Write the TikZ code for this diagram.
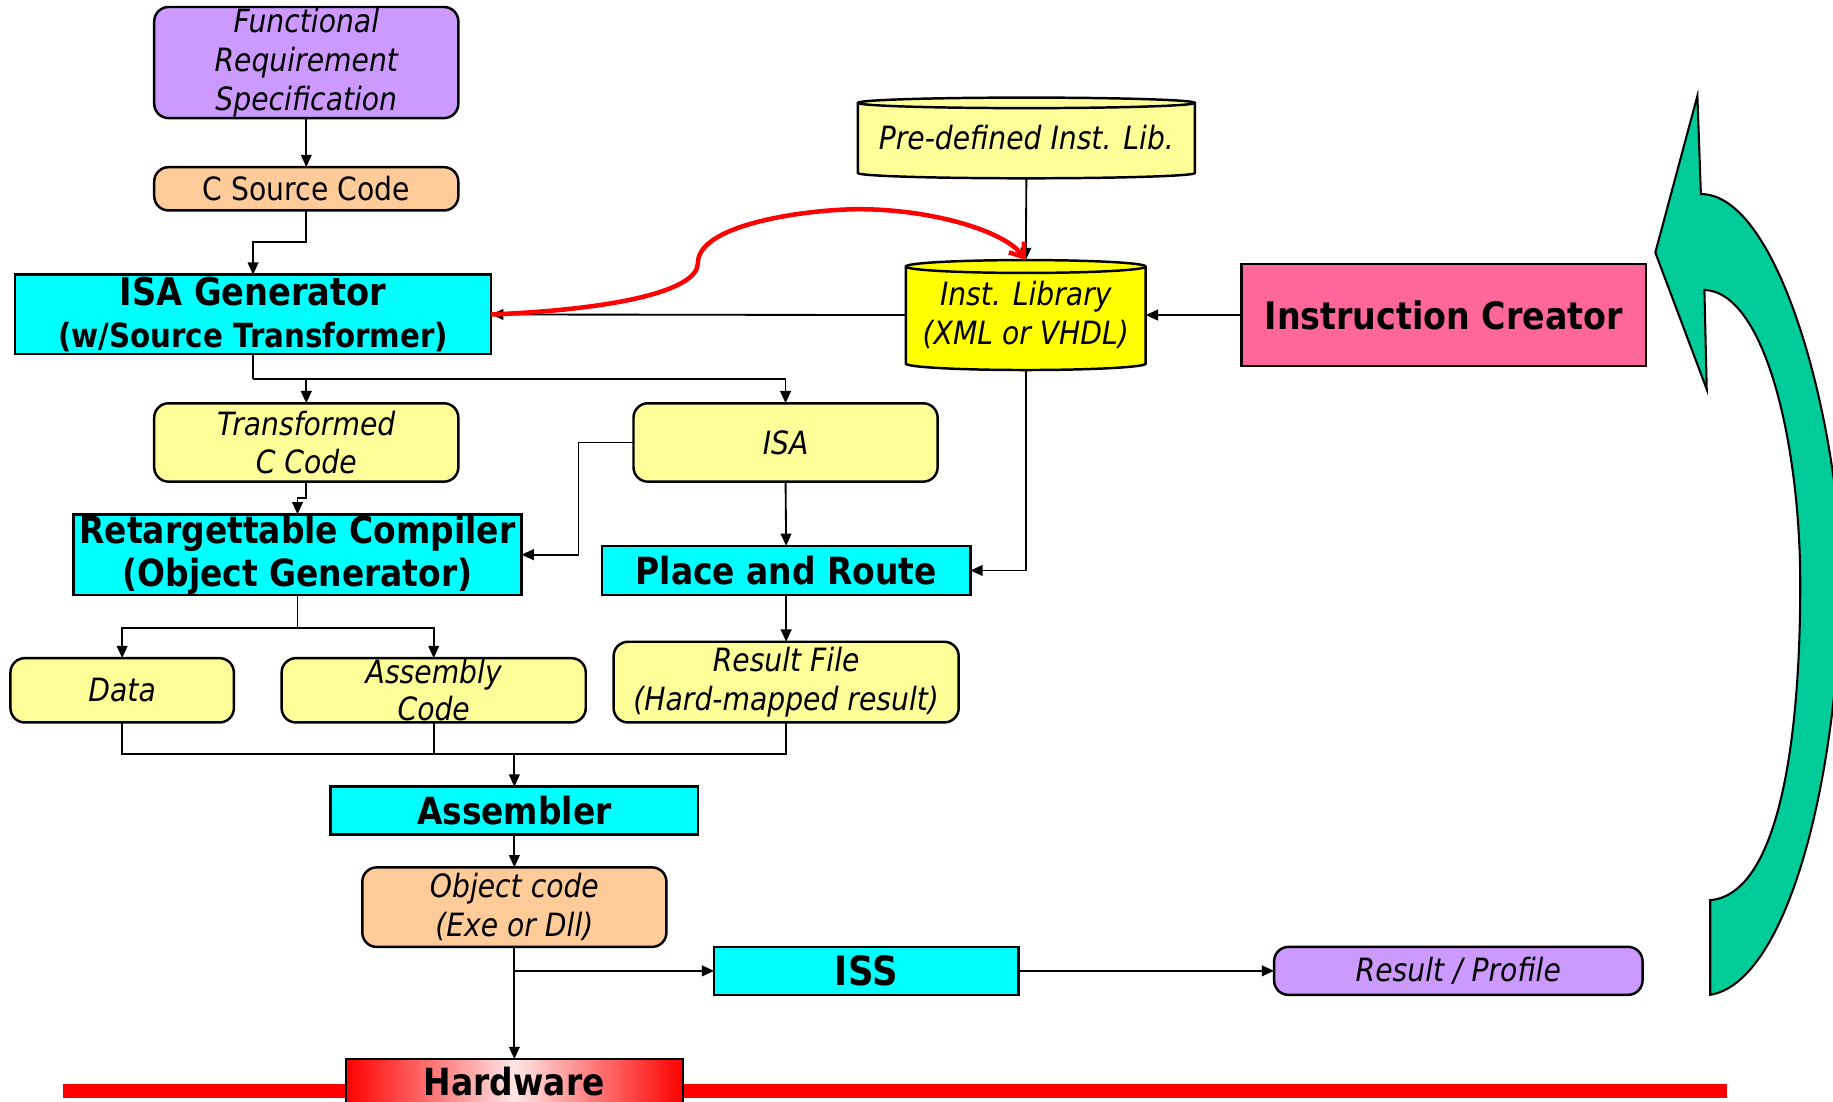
\documentclass[tikz,border=0pt]{standalone}
\usepackage{fontspec}
\setmainfont{DejaVu Sans}[FakeStretch=0.88]
\usetikzlibrary{arrows.meta,backgrounds}

\definecolor{lilac}{HTML}{CC99FF}
\definecolor{peach}{HTML}{FFCC99}
\definecolor{paleyellow}{HTML}{FFFF99}
\definecolor{libyellow}{HTML}{FFFF00}
\definecolor{toolcyan}{HTML}{00FFFF}
\definecolor{pinkbox}{HTML}{FF6699}
\definecolor{loopgreen}{HTML}{00CC99}
\definecolor{barred}{HTML}{FF0000}

% library drum: node name, half width, rim radius, fill
\newcommand{\libdrum}[4]{%
  \draw[line width=0.6pt,fill=#4] (#1.north west) -- (#1.south west)
    arc[start angle=180,end angle=360,x radius=#2,y radius=#3]
    -- (#1.north east)
    arc[start angle=0,end angle=180,x radius=#2,y radius=#3] -- cycle;
  \draw[line width=0.6pt] (#1.north west)
    arc[start angle=180,end angle=360,x radius=#2,y radius=#3];}

\tikzset{
  block/.style={draw,line width=0.6pt,align=center,inner sep=0pt,outer sep=0pt},
  tool/.style={block,fill=toolcyan,font=\bfseries\fontsize{9.1}{10.5}\selectfont},
  datafile/.style={block,rounded corners=3.5pt,fill=paleyellow,
    font=\itshape\fontsize{7.8}{9.4}\selectfont},
  libtext/.style={align=center,inner sep=0pt,outer sep=0pt,
    font=\itshape\fontsize{7.8}{9.4}\selectfont},
}

\begin{document}
\begin{tikzpicture}[x=0.01cm,y=-0.01cm,line width=0.45pt,
    >={Triangle[length=3pt,width=2.6pt]}]
\useasboundingbox (0,0) rectangle (1568,942);

% left column
\node[datafile,fill=lilac,minimum width=2.6cm,minimum height=0.95cm] (frs)
    at (262,53.5) {Functional\\Requirement\\Specification};
\node[datafile,fill=peach,font=\fontsize{7.8}{9.4}\selectfont,
    minimum width=2.6cm,minimum height=0.37cm] (csrc) at (262,161.5) {C Source Code};
\node[tool,font=\bfseries\fontsize{9.3}{10}\selectfont,
    minimum width=4.07cm,minimum height=0.68cm] (isagen) at (216.5,269)
    {ISA Generator\\{\fontsize{8.1}{9}\selectfont(w/Source Transformer)}};
\node[datafile,minimum width=2.6cm,minimum height=0.67cm] (tcode)
    at (262,378.5) {Transformed\\C Code};
\node[tool,minimum width=3.83cm,minimum height=0.69cm] (rcomp)
    at (254.5,474.5) {Retargettable Compiler\\(Object Generator)};
\node[datafile,minimum width=1.91cm,minimum height=0.55cm] (data)
    at (104.5,590.5) {Data};
\node[datafile,font=\itshape\fontsize{7.8}{9.1}\selectfont,
    minimum width=2.6cm,minimum height=0.55cm] (asmcode) at (371,590.5) {Assembly\\Code};
\node[tool,minimum width=3.14cm,minimum height=0.41cm] (assembler)
    at (440,693.5) {Assembler};
\node[datafile,fill=peach,minimum width=2.6cm,minimum height=0.68cm] (objcode)
    at (440,776) {Object code\\(Exe or Dll)};

% middle column
\node[datafile,minimum width=2.6cm,minimum height=0.67cm] (isa) at (672,378.5) {ISA};
\node[tool,minimum width=3.15cm,minimum height=0.42cm] (pnr)
    at (672.5,488) {Place and Route};
\node[datafile,minimum width=2.95cm,minimum height=0.69cm] (result)
    at (672.5,583.5) {Result File\\(Hard-mapped result)};
\node[tool,font=\bfseries\fontsize{9.8}{10}\selectfont,
    minimum width=2.6cm,minimum height=0.41cm] (iss) at (741,830.5) {ISS};
\node[datafile,fill=lilac,minimum width=3.15cm,minimum height=0.41cm] (profile)
    at (1247.5,830.5) {Result / Profile};

% libraries
\node[libtext,minimum width=2.88cm,minimum height=0.6cm] (predef)
    at (878,118) {Pre-defined Inst. Lib.};
\node[libtext,minimum width=2.05cm,minimum height=0.83cm] (instlib)
    at (877.5,269.5) {Inst. Library\\(XML or VHDL)};
\begin{scope}[on background layer]
  \libdrum{predef}{1.44cm}{0.045cm}{paleyellow}
  \libdrum{instlib}{1.025cm}{0.055cm}{libyellow}
\end{scope}
\coordinate (predef bottom) at ([yshift=-0.045cm]predef.south);
\coordinate (lib top) at ([yshift=0.055cm]instlib.north);
\coordinate (lib bottom) at ([yshift=-0.055cm]instlib.south);

\node[block,fill=pinkbox,font=\bfseries\fontsize{9.2}{10}\selectfont,
    minimum width=3.46cm,minimum height=0.87cm] (icreator)
    at (1235,269.5) {Instruction Creator};

% hardware bar
\draw[barred,line width=0.12cm] (54,933) -- (1477,933);
\node[block,left color=barred,right color=barred,middle color=barred!10,
    font=\bfseries\fontsize{9.1}{10}\selectfont,
    minimum width=2.88cm,minimum height=0.38cm] (hw) at (440,925) {Hardware};

% draw arrows
\draw[->] (frs.south) -- (csrc.north);
\draw[->] (csrc.south) -- ++(0,27) -| (isagen.north);
\draw (isagen.south) -- ++(0,21) coordinate (split1);
\draw[->] (split1) -| (isa.north);
\draw[->] (split1 -| tcode.north) -- (tcode.north);
\draw[->] (tcode.south) -- ++(0,14) -| (rcomp.north);
\draw[->] (isa.west) -- ++(-47,0) |- (rcomp.east);
\draw[->] (isa.south) -- (pnr.north);
\draw[->] (predef bottom) -- (lib top);
\draw[->] (instlib.west) -- (isagen.east);
\draw[->] (icreator.west) -- (instlib.east);
\draw[->] (lib bottom) |- (pnr.east);
\draw[->] (pnr.south) -- (result.north);
\draw (rcomp.south) -- ++(0,28) coordinate (split2);
\draw[->] (split2) -| (data.north);
\draw[->] (split2) -| (asmcode.north);
\coordinate (merge) at ([yshift=0.28cm]assembler.north);
\draw (data.south) |- (merge) -| (result.south);
\draw (asmcode.south) -- (asmcode.south |- merge);
\draw[->] (merge) -- (assembler.north);
\draw[->] (assembler.south) -- (objcode.north);
\draw[->] (objcode.south) -- (hw.north);
\draw[->] (objcode.south |- iss.west) -- (iss.west);
\draw[->] (iss.east) -- (profile.west);

% red feedback
\draw[barred,line width=1.1pt,-{Straight Barb[length=3pt,width=4.5pt]}] (isagen.east)
    .. controls (520,265) and (597,250) .. (597,225)
    .. controls (597,190) and (700,178) .. (740,179)
    .. controls (800,180) and (860,198) .. (lib top);

% loop arrow
\filldraw[fill=loopgreen,draw=black,line width=0.5pt]
    (1416,216) -- (1452,82) -- (1455,166)
    .. controls (1520,166) and (1570,350) .. (1575,480)
    .. controls (1575,660) and (1530,840) .. (1463,851)
    -- (1463,770)
    .. controls (1520,765) and (1540,640) .. (1540,500)
    .. controls (1540,380) and (1510,250) .. (1458,248)
    -- (1460,333) -- cycle;
\end{tikzpicture}
\end{document}
